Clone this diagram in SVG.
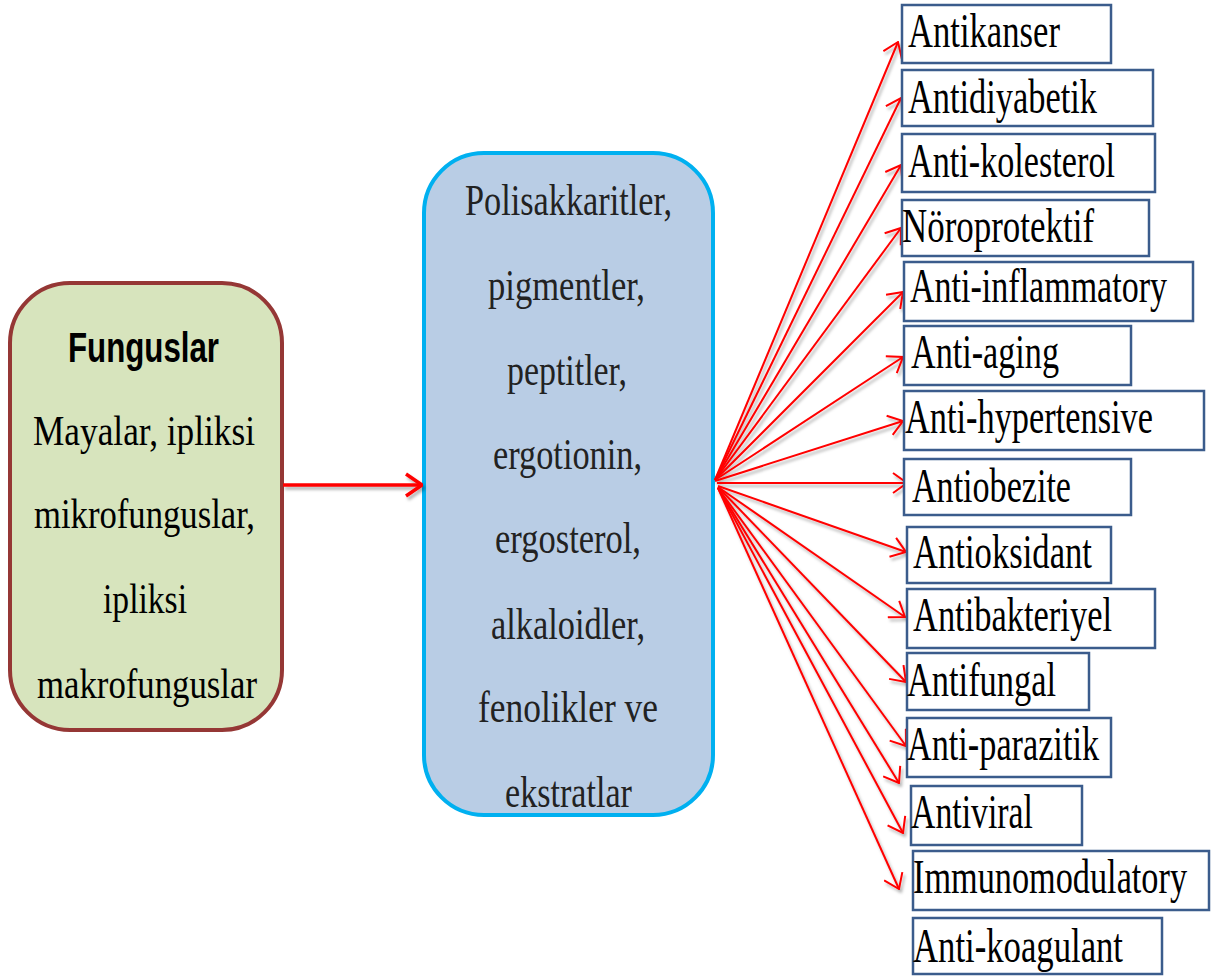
<svg xmlns="http://www.w3.org/2000/svg" width="1212" height="978" viewBox="0 0 1212 978">
<defs>
  <style>
    .serif{font-family:"Liberation Serif","Times New Roman",serif;}
    .lt{font-size:42px;fill:#000;}
    .mt{font-size:44px;fill:#222;}
    .rt{font-size:48px;fill:#000;}
    .rbox{fill:#fff;stroke:#3B5C8C;stroke-width:2.5;}
    .fan{stroke:#FF0000;stroke-width:2;fill:none;marker-end:url(#ah);}
  </style>
  <marker id="ah" viewBox="0 0 16 22" refX="15" refY="11" markerWidth="16" markerHeight="22" markerUnits="userSpaceOnUse" orient="auto">
    <path d="M1,1 L15,11 L1,21" fill="none" stroke="#FF0000" stroke-width="2"/>
  </marker>
  <marker id="ahBig" viewBox="0 0 18 26" refX="17" refY="13" markerWidth="18" markerHeight="26" markerUnits="userSpaceOnUse" orient="auto">
    <path d="M1,2 L17,13 L1,24" fill="none" stroke="#FF0000" stroke-width="3.5"/>
  </marker>
  <filter id="sh" x="-10%" y="-10%" width="120%" height="120%">
    <feDropShadow dx="2" dy="3" stdDeviation="1.5" flood-color="#000" flood-opacity="0.3"/>
  </filter>
</defs>
<rect width="1212" height="978" fill="#fff"/>

<g id="fungi">
  <rect x="10" y="283" width="272" height="447" rx="60" ry="60" fill="#D7E4BD" stroke="#953735" stroke-width="4"/>
  <text x="143.5" y="362" text-anchor="middle" font-family="'Liberation Sans',Arial,sans-serif" font-weight="bold" font-size="42" textLength="151" lengthAdjust="spacingAndGlyphs">Funguslar</text>
  <text class="serif lt" x="144" y="445" text-anchor="middle" textLength="222" lengthAdjust="spacingAndGlyphs">Mayalar,  ipliksi</text>
  <text class="serif lt" x="144.5" y="528" text-anchor="middle" textLength="221" lengthAdjust="spacingAndGlyphs">mikrofunguslar,</text>
  <text class="serif lt" x="145" y="613" text-anchor="middle" textLength="84" lengthAdjust="spacingAndGlyphs">ipliksi</text>
  <text class="serif lt" x="147" y="698" text-anchor="middle" textLength="220" lengthAdjust="spacingAndGlyphs">makrofunguslar</text>
</g>

<g id="compounds">
  <rect x="424" y="153" width="289" height="662" rx="60" ry="60" fill="#B9CDE5" stroke="#00B0F0" stroke-width="4"/>
  <text class="serif mt" x="568.5" y="215" text-anchor="middle" textLength="207" lengthAdjust="spacingAndGlyphs">Polisakkaritler,</text>
  <text class="serif mt" x="566.5" y="300" text-anchor="middle" textLength="157" lengthAdjust="spacingAndGlyphs">pigmentler,</text>
  <text class="serif mt" x="567" y="385" text-anchor="middle" textLength="120" lengthAdjust="spacingAndGlyphs">peptitler,</text>
  <text class="serif mt" x="567.5" y="469" text-anchor="middle" textLength="149" lengthAdjust="spacingAndGlyphs">ergotionin,</text>
  <text class="serif mt" x="568" y="553" text-anchor="middle" textLength="146" lengthAdjust="spacingAndGlyphs">ergosterol,</text>
  <text class="serif mt" x="568" y="639" text-anchor="middle" textLength="154" lengthAdjust="spacingAndGlyphs">alkaloidler,</text>
  <text class="serif mt" x="568" y="722" text-anchor="middle" textLength="180" lengthAdjust="spacingAndGlyphs">fenolikler  ve</text>
  <text class="serif mt" x="568.5" y="807" text-anchor="middle" textLength="127" lengthAdjust="spacingAndGlyphs">ekstratlar</text>
</g>

<g id="connectors" filter="url(#sh)">
  <line x1="283" y1="485" x2="422" y2="485" stroke="#FF0000" stroke-width="3.5" marker-end="url(#ahBig)"/>
  <line class="fan" x1="715" y1="480" x2="898" y2="42"/>
  <line class="fan" x1="715" y1="480" x2="901" y2="98"/>
  <line class="fan" x1="715" y1="480" x2="901" y2="165"/>
  <line class="fan" x1="715" y1="480" x2="901" y2="228"/>
  <line class="fan" x1="715" y1="480" x2="903" y2="292"/>
  <line class="fan" x1="715" y1="480" x2="903" y2="357"/>
  <line class="fan" x1="715" y1="481" x2="903" y2="421"/>
  <line class="fan" x1="717" y1="483" x2="907" y2="483"/>
  <line class="fan" x1="718" y1="486" x2="906" y2="552"/>
  <line class="fan" x1="718" y1="487" x2="905" y2="617"/>
  <line class="fan" x1="718" y1="487" x2="906" y2="682"/>
  <line class="fan" x1="718" y1="488" x2="906" y2="746"/>
  <line class="fan" x1="718" y1="488" x2="899" y2="783"/>
  <line class="fan" x1="718" y1="488" x2="903" y2="833"/>
  <line class="fan" x1="718" y1="488" x2="899" y2="889"/>
</g>

<g id="antikanser"><rect class="rbox" x="902" y="5" width="209" height="58"/><text class="serif rt" transform="translate(908,47) scale(0.72,1)" textLength="211" lengthAdjust="spacingAndGlyphs">Antikanser</text></g>
<g id="antidiyabetik"><rect class="rbox" x="902" y="70" width="251" height="56"/><text class="serif rt" transform="translate(908,113) scale(0.72,1)" textLength="262.5" lengthAdjust="spacingAndGlyphs">Antidiyabetik</text></g>
<g id="antikolesterol"><rect class="rbox" x="902" y="134" width="253" height="58"/><text class="serif rt" transform="translate(908,177) scale(0.72,1)" textLength="287.5" lengthAdjust="spacingAndGlyphs">Anti-kolesterol</text></g>
<g id="noroprotektif"><rect class="rbox" x="902" y="200" width="247" height="56"/><text class="serif rt" transform="translate(902,242) scale(0.72,1)" textLength="266.7" lengthAdjust="spacingAndGlyphs">Nöroprotektif</text></g>
<g id="antiinflammatory"><rect class="rbox" x="904" y="262" width="289" height="59"/><text class="serif rt" transform="translate(910,302) scale(0.72,1)" textLength="357" lengthAdjust="spacingAndGlyphs">Anti-inflammatory</text></g>
<g id="antiaging"><rect class="rbox" x="904" y="326" width="227" height="59"/><text class="serif rt" transform="translate(911,368) scale(0.72,1)" textLength="205.6" lengthAdjust="spacingAndGlyphs">Anti-aging</text></g>
<g id="antihypertensive"><rect class="rbox" x="904" y="391" width="300" height="59"/><text class="serif rt" transform="translate(905,433) scale(0.72,1)" textLength="344.4" lengthAdjust="spacingAndGlyphs">Anti-hypertensive</text></g>
<g id="antiobezite"><rect class="rbox" x="904" y="459" width="227" height="56"/><text class="serif rt" transform="translate(912,502) scale(0.72,1)" textLength="220.8" lengthAdjust="spacingAndGlyphs">Antiobezite</text></g>
<g id="antioksidant"><rect class="rbox" x="907" y="527" width="204" height="56"/><text class="serif rt" transform="translate(913,568) scale(0.72,1)" textLength="248.6" lengthAdjust="spacingAndGlyphs">Antioksidant</text></g>
<g id="antibakteriyel"><rect class="rbox" x="907" y="589" width="248" height="59"/><text class="serif rt" transform="translate(913,631) scale(0.72,1)" textLength="276.4" lengthAdjust="spacingAndGlyphs">Antibakteriyel</text></g>
<g id="antifungal"><rect class="rbox" x="907" y="653" width="182" height="57"/><text class="serif rt" transform="translate(907,696) scale(0.72,1)" textLength="207" lengthAdjust="spacingAndGlyphs">Antifungal</text></g>
<g id="antiparazitik"><rect class="rbox" x="907" y="718" width="204" height="59"/><text class="serif rt" transform="translate(907,760) scale(0.72,1)" textLength="266.7" lengthAdjust="spacingAndGlyphs">Anti-parazitik</text></g>
<g id="antiviral"><rect class="rbox" x="911" y="786" width="171" height="59"/><text class="serif rt" transform="translate(911,828) scale(0.72,1)" textLength="169.4" lengthAdjust="spacingAndGlyphs">Antiviral</text></g>
<g id="immunomodulatory"><rect class="rbox" x="913" y="851" width="296" height="59"/><text class="serif rt" transform="translate(913,893) scale(0.72,1)" textLength="380.6" lengthAdjust="spacingAndGlyphs">Immunomodulatory</text></g>
<g id="antikoagulant"><rect class="rbox" x="913" y="918" width="249" height="56"/><text class="serif rt" transform="translate(913,962) scale(0.72,1)" textLength="291.7" lengthAdjust="spacingAndGlyphs">Anti-koagulant</text></g>
</svg>
